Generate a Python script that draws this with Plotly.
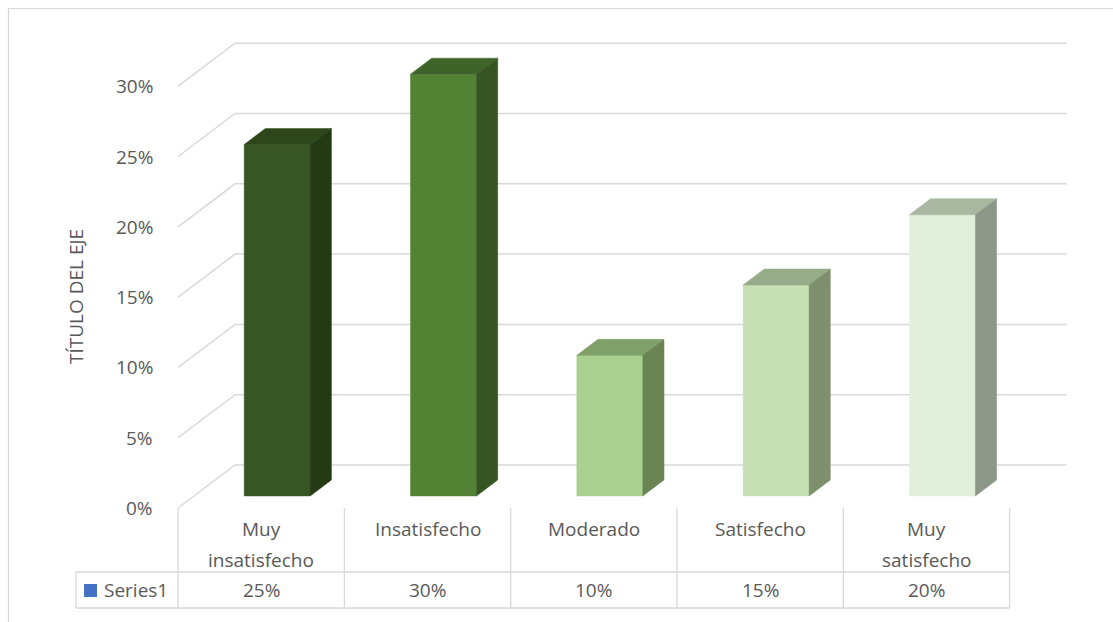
import plotly.graph_objects as go

# ---- data -------------------------------------------------------------
categories = ["Muy insatisfecho", "Insatisfecho", "Moderado", "Satisfecho", "Muy satisfecho"]
header_lines = [["Muy", "insatisfecho"], ["Insatisfecho"], ["Moderado"], ["Satisfecho"], ["Muy", "satisfecho"]]
values = [25, 30, 10, 15, 20]                      # percent
value_labels = ["25%", "30%", "10%", "15%", "20%"]
tick_values = [0, 5, 10, 15, 20, 25, 30]
tick_labels = ["0%", "5%", "10%", "15%", "20%", "25%", "30%"]
series_name = "Series1"
axis_title = "TÍTULO DEL EJE"

# ---- styling ------------------------------------------------------------
front_colors = ["#375623", "#548235", "#a9d08e", "#c6e0b4", "#e2efda"]
top_colors = ["#2d471b", "#3f6429", "#80a06a", "#96ab88", "#a9b7a1"]
side_colors = ["#243a15", "#365522", "#6a8553", "#7d8f6d", "#8c9787"]
grid_color = "#d9d9d9"
text_color = "#595959"
font_family = "Open Sans"
font_size = 19

W, H = 1113, 622
COL = 166.3      # px per category on the front plane
X0 = 261.25      # px of first category centre
Y0 = 508.0       # px of 0 % on the front plane
PCT = 14.06      # px per percentage point
DEPTH_X = 57 / COL   # oblique depth vector in data units
DEPTH_Y = 43 / PCT
BAR_HALF = 33 / COL
F1, F2 = 0.28, 0.652  # bar front / back depth fractions


def px_x(p):
    return p / W


def px_y(p):
    return 1 - p / H


fig = go.Figure()

# back wall and side wall gridlines
n = len(categories)
for v in tick_values:
    fig.add_trace(go.Scatter(
        x=[-0.5, -0.5 + DEPTH_X, n - 0.5 + DEPTH_X],
        y=[v, v + DEPTH_Y, v + DEPTH_Y],
        mode="lines", line=dict(color=grid_color, width=1.5),
        hoverinfo="skip", showlegend=False))


def face(xs, ys, color):
    fig.add_trace(go.Scatter(
        x=xs + [xs[0]], y=ys + [ys[0]], mode="lines", fill="toself",
        fillcolor=color, line=dict(width=0.5, color=color),
        hoverinfo="skip", showlegend=False))


# 3-D columns
for i, v in enumerate(values):
    fx1, fy1 = F1 * DEPTH_X, F1 * DEPTH_Y
    bx1, by1 = F2 * DEPTH_X, F2 * DEPTH_Y
    l, r = i - BAR_HALF, i + BAR_HALF
    # front
    face([l + fx1, r + fx1, r + fx1, l + fx1], [fy1, fy1, v + fy1, v + fy1], front_colors[i])
    # top
    face([l + fx1, r + fx1, r + bx1, l + bx1], [v + fy1, v + fy1, v + by1, v + by1], top_colors[i])
    # right side
    face([r + fx1, r + bx1, r + bx1, r + fx1], [fy1, by1, v + by1, v + fy1], side_colors[i])

annotations = []
shapes = []

# value axis labels
for v, t in zip(tick_values, tick_labels):
    annotations.append(dict(x=-0.5, y=v, xref="x", yref="y", text=t, showarrow=False,
                            xanchor="right", yanchor="middle", xshift=-23,
                            font=dict(family=font_family, size=font_size, color=text_color)))

# axis title
annotations.append(dict(x=px_x(76), y=px_y(297), xref="paper", yref="paper", text=axis_title,
                        showarrow=False, textangle=-90, xanchor="center", yanchor="middle",
                        font=dict(family=font_family, size=font_size, color=text_color)))

# data table grid
line_style = dict(color=grid_color, width=1.3)
row_top, row_mid, row_bot = 508, 572, 608
table_left = 76
for i in range(n + 1):
    shapes.append(dict(type="line", xref="x", yref="paper", x0=i - 0.5, x1=i - 0.5,
                       y0=px_y(row_top), y1=px_y(row_bot), line=line_style))
for yy in (row_mid, row_bot):
    shapes.append(dict(type="line", xref="paper", yref="paper", x0=px_x(table_left),
                       x1=px_x(X0 + (n - 0.5) * COL), y0=px_y(yy), y1=px_y(yy), line=line_style))
shapes.append(dict(type="line", xref="paper", yref="paper", x0=px_x(table_left), x1=px_x(table_left),
                   y0=px_y(row_mid), y1=px_y(row_bot), line=line_style))

# category headers
line_pos = [529, 560]
for i, lines in enumerate(header_lines):
    for k, txt in enumerate(lines):
        annotations.append(dict(x=i, y=px_y(line_pos[k]), xref="x", yref="paper", text=txt,
                                showarrow=False, xanchor="center", yanchor="middle",
                                font=dict(family=font_family, size=font_size, color=text_color)))

# value row
for i, t in enumerate(value_labels):
    annotations.append(dict(x=i, y=px_y(590), xref="x", yref="paper", text=t, showarrow=False,
                            xanchor="center", yanchor="middle",
                            font=dict(family=font_family, size=font_size, color=text_color)))

# legend key inside table
shapes.append(dict(type="rect", xref="paper", yref="paper", x0=px_x(84), x1=px_x(97),
                   y0=px_y(597), y1=px_y(584), fillcolor="#4472c4", line=dict(width=0)))
annotations.append(dict(x=px_x(102), y=px_y(590), xref="paper", yref="paper", text=series_name,
                        showarrow=False, xanchor="left", yanchor="middle",
                        font=dict(family=font_family, size=font_size, color=text_color)))

# chart border
shapes.append(dict(type="rect", xref="paper", yref="paper", x0=px_x(8.5), x1=px_x(1140),
                   y0=px_y(650), y1=px_y(8.5), line=dict(color=grid_color, width=1.2),
                   fillcolor="rgba(0,0,0,0)", layer="below"))

fig.update_layout(
    width=W, height=H, margin=dict(l=0, r=0, t=0, b=0),
    paper_bgcolor="white", plot_bgcolor="white",
    xaxis=dict(range=[(0 - X0) / COL, (W - X0) / COL], visible=False, fixedrange=True),
    yaxis=dict(range=[(Y0 - H) / PCT, Y0 / PCT], visible=False, fixedrange=True),
    annotations=annotations, shapes=shapes, showlegend=False,
)

fig.write_html("out.html", config={"displayModeBar": False})
